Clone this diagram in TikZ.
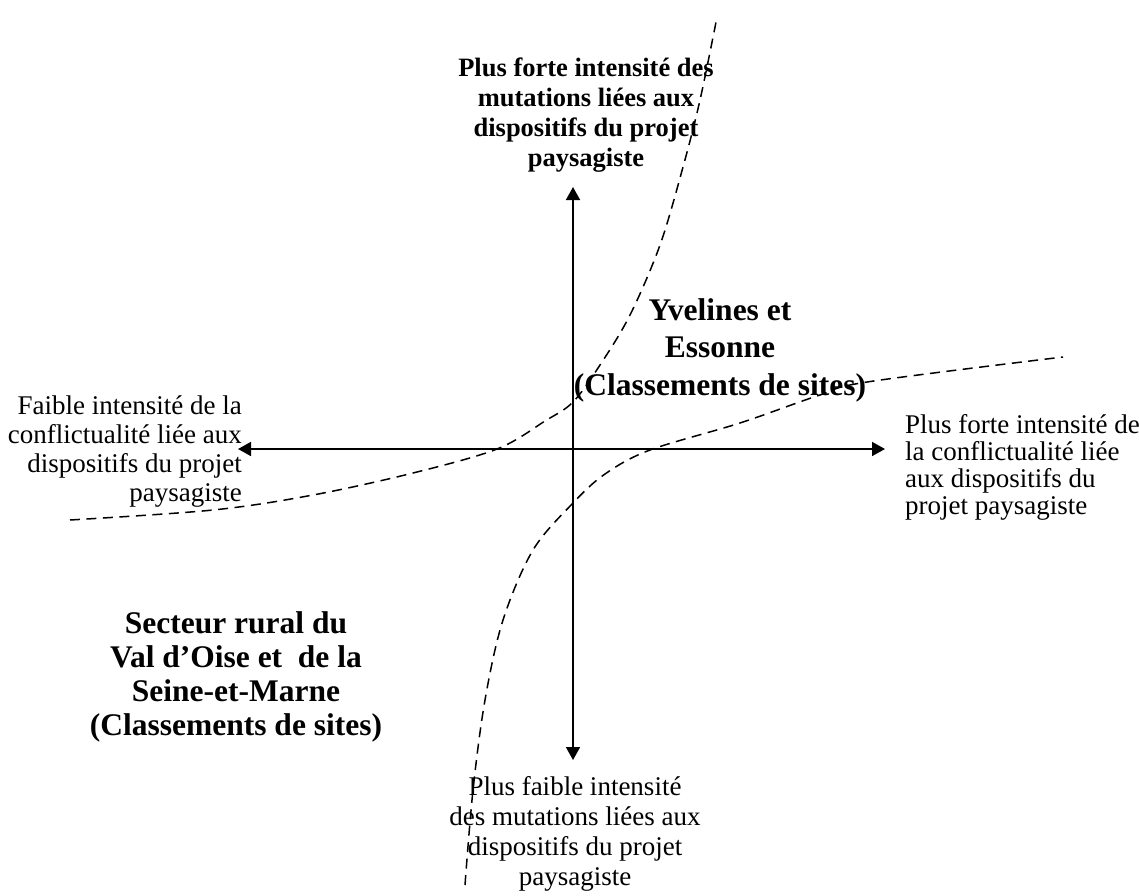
\documentclass[tikz,border=0pt]{standalone}
\usepackage{fontspec}
\setmainfont{Liberation Serif}
\usetikzlibrary{arrows.meta}
\begin{document}
\begin{tikzpicture}[x=1pt,y=-1pt,
  axis/.style={line width=1.7pt,{Triangle[length=13pt,width=14pt]}-{Triangle[length=13pt,width=14pt]}},
  bound/.style={line width=1.5pt,dash pattern=on 10pt off 6.5pt},
  small/.style={inner sep=0pt,font=\fontsize{27}{29}\selectfont},
  smallbold/.style={inner sep=0pt,font=\bfseries\fontsize{26.5}{30}\selectfont},
  big/.style={inner sep=0pt,font=\bfseries\fontsize{31.5}{36}\selectfont,align=center}]
\useasboundingbox (0,0) rectangle (1139,895);
% axis end points
\coordinate (L) at (238,449);
\coordinate (R) at (885,449);
\coordinate (T) at (573,187);
\coordinate (B) at (573,760);
\draw[axis] (L) -- (R);
\draw[axis] (T) -- (B);
% dashed boundaries
\draw[bound] plot[smooth,tension=0.55] coordinates {(70,520) (213,510) (313,495) (413,473) (497,449) (545,421) (573,402) (600,365) (630,315) (660,245) (683,167) (700,100) (717,17)};
\draw[bound] plot[smooth,tension=0.55] coordinates {(465,885) (473,790) (485,700) (503,620) (533,550) (573,503) (605,474) (650,450) (740,423) (817,396) (867,382) (1063,357)};
% labels
\node[smallbold,align=center,anchor=north] (top) at (586,58) {Plus forte intensité des\\mutations liées aux\\dispositifs du projet\\paysagiste};
\node[small,align=center,anchor=north,font=\fontsize{27}{30}\selectfont] (bottom) at (575,776) {Plus faible intensité\\des mutations liées aux\\dispositifs du projet\\paysagiste};
\node[small,align=right,anchor=north east] (left) at (242,396) {Faible intensité de la\\conflictualité liée aux\\dispositifs du projet\\paysagiste};
\node[small,align=left,anchor=north west,font=\fontsize{27}{27}\selectfont] (right) at (905,414) {Plus forte intensité de\\la conflictualité liée\\aux dispositifs du\\projet paysagiste};
\node[big,anchor=north,font=\bfseries\fontsize{31.5}{37.5}\selectfont] (ne) at (720,298) {Yvelines et\\Essonne\\(Classements de sites)};
\node[big,anchor=north,font=\bfseries\fontsize{31.5}{34}\selectfont] (sw) at (236,611) {Secteur rural du\\Val d’Oise et\ \ de la\\Seine-et-Marne\\(Classements de sites)};
\end{tikzpicture}
\end{document}
